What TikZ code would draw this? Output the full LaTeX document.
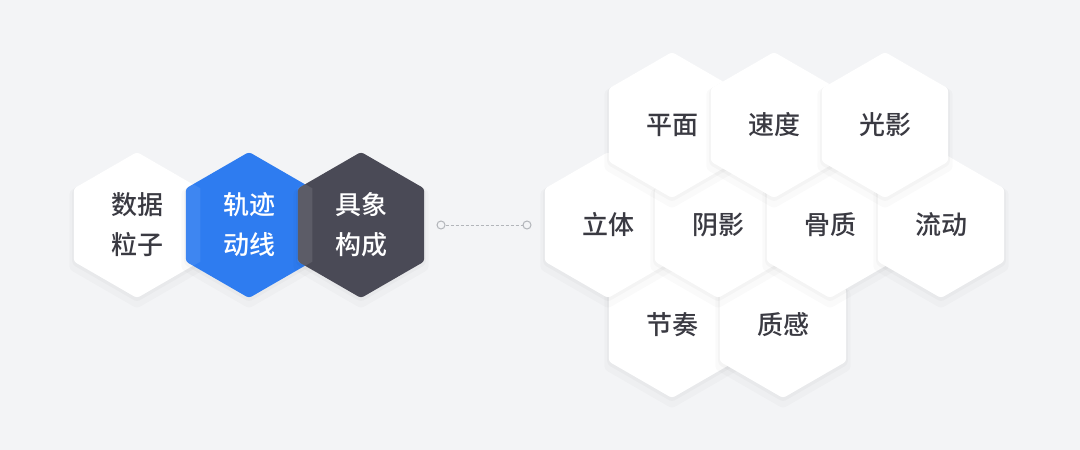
\documentclass[tikz,border=0pt]{standalone}
\usepackage{fontspec}
\setmainfont{Noto Sans CJK SC}[UprightFont={* Medium}]
\usetikzlibrary{shapes.geometric,shadows}
\definecolor{bg}{HTML}{F3F4F6}
\definecolor{hexblue}{HTML}{2E7CF0}
\definecolor{hexdark}{HTML}{4A4A56}
\definecolor{txt}{HTML}{3A3A42}
\definecolor{conn}{HTML}{B2B5BA}
\begin{document}
\begin{tikzpicture}[x=1pt,y=-1pt,
  hexbase/.style={regular polygon, regular polygon sides=6, shape border rotate=30,
    minimum size=146pt, inner sep=0pt, rounded corners=3pt,
    font=\fontsize{26}{40}\selectfont, align=center, text=txt},
  hexshadow/.style={
    general shadow={fill=black,opacity=0.02,shadow yshift=-5pt,shadow scale=1.07},
    general shadow={fill=black,opacity=0.025,shadow yshift=-2pt,shadow scale=1.025}},
  hexwhite/.style={hexbase, hexshadow, fill=white},
  hexbl/.style={hexbase, hexshadow, fill=hexblue, text=white},
  hexdk/.style={hexbase, hexshadow, fill=hexdark, text=white},
  dot/.style={circle, draw=conn, line width=1pt, fill=bg, minimum size=8pt, inner sep=0pt},
  link/.style={draw=conn, line width=1pt, dash pattern=on 3pt off 2pt}
]
\fill[bg] (0,0) rectangle (1080,450);
\useasboundingbox (0,0) rectangle (1080,450);

% left group
\node[hexwhite] (w) at (137,225) {数据\\粒子};
\node[hexbl] (b) at (249,225) {轨迹\\动线};
\begin{scope}
  \clip (w.corner 1) -- (w.corner 2) -- (w.corner 3) -- (w.corner 4) -- (w.corner 5) -- (w.corner 6) -- cycle;
  \fill[white, opacity=0.08] (b.corner 1) -- (b.corner 2) -- (b.corner 3) -- (b.corner 4) -- (b.corner 5) -- (b.corner 6) -- cycle;
\end{scope}
\node[hexdk] (d) at (361,225) {具象\\构成};
\begin{scope}
  \clip (b.corner 1) -- (b.corner 2) -- (b.corner 3) -- (b.corner 4) -- (b.corner 5) -- (b.corner 6) -- cycle;
  \fill[white, opacity=0.1] (d.corner 1) -- (d.corner 2) -- (d.corner 3) -- (d.corner 4) -- (d.corner 5) -- (d.corner 6) -- cycle;
\end{scope}

% connector
\node[dot] (c1) at (441,225) {};
\node[dot] (c2) at (527,225) {};
\draw[link] (c1) -- (c2);

% right group: bottom row first
\node[hexwhite] (jz) at (672,325) {节奏};
\node[hexwhite] (zg) at (783,325) {质感};
\node[hexwhite] (lt) at (608,225) {立体};
\node[hexwhite] (yy) at (718,225) {阴影};
\node[hexwhite] (gz) at (830,225) {骨质};
\node[hexwhite] (ld) at (941,225) {流动};
\node[hexwhite] (pm) at (672,125) {平面};
\node[hexwhite] (sd) at (774,125) {速度};
\node[hexwhite] (gy) at (885,125) {光影};
\end{tikzpicture}
\end{document}
